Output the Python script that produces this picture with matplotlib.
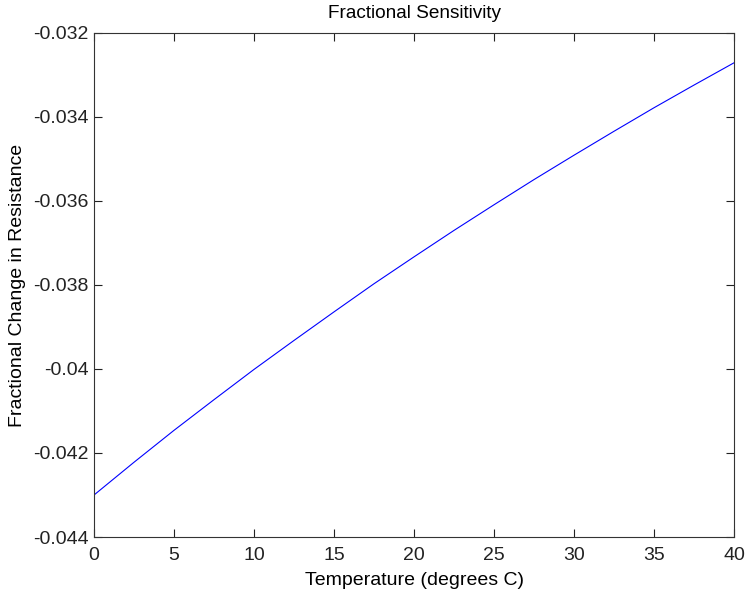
import matplotlib
matplotlib.use("Agg")
import matplotlib.pyplot as plt

plt.rcParams['font.family'] = ['Liberation Sans', 'DejaVu Sans']

# temperature (deg C) and fractional change in resistance
temps = [0, 2.5, 5, 7.5, 10, 12.5, 15, 17.5, 20, 22.5, 25, 27.5, 30, 32.5, 35, 37.5, 40]
frac_change = [-0.04300, -0.04222, -0.04146, -0.04073, -0.04001, -0.03932, -0.03864,
               -0.03797, -0.03733, -0.03670, -0.03609, -0.03549, -0.03491, -0.03434,
               -0.03378, -0.03324, -0.03271]

xticks = [0, 5, 10, 15, 20, 25, 30, 35, 40]
yticks = [-0.044, -0.042, -0.04, -0.038, -0.036, -0.034, -0.032]
ytick_labels = ['-0.044', '-0.042', '-0.04', '-0.038', '-0.036', '-0.034', '-0.032']

fig = plt.figure(figsize=(7.51, 5.92), dpi=100)
ax = fig.add_axes([0.1252, 0.0929, 0.8522, 0.8514])

ax.plot(temps, frac_change, color='#0000ff', linewidth=0.8)

ax.set_xlim(0, 40)
ax.set_ylim(-0.044, -0.032)
ax.set_xticks(xticks)
ax.set_xticklabels([str(t) for t in xticks])
ax.set_yticks(yticks)
ax.set_yticklabels(ytick_labels)

ax.tick_params(direction='in', length=6, width=0.8, labelsize=14,
               top=True, right=True, colors='#222222', pad=4)
ax.tick_params(axis='x', pad=7)
for s in ax.spines.values():
    s.set_color('#333333')
    s.set_linewidth(0.8)

ax.set_title('Fractional Sensitivity', fontsize=13.7, pad=11)
ax.set_xlabel('Temperature (degrees C)', fontsize=14, labelpad=6)
ax.set_ylabel('Fractional Change in Resistance', fontsize=14, labelpad=5)

plt.savefig('out.png', dpi=100)
